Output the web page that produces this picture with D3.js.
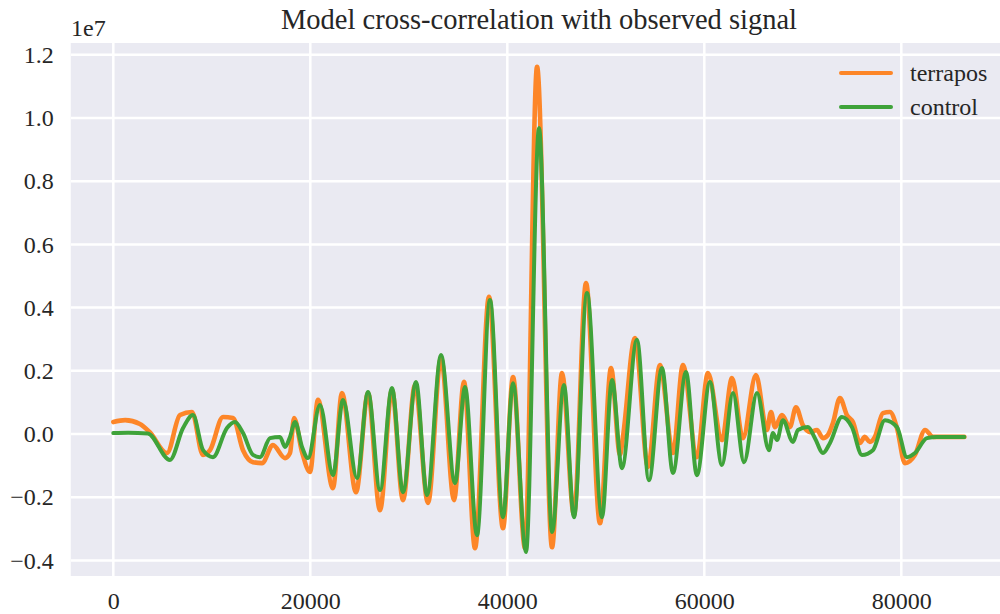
<!DOCTYPE html>
<html>
<head>
<meta charset="utf-8">
<script src="https://cdn.jsdelivr.net/npm/d3@7/dist/d3.min.js"></script>
<style>
  html, body { margin: 0; padding: 0; background: #ffffff; }
  svg { display: block; }
  text { font-family: "Liberation Serif", "DejaVu Serif", serif; fill: #262626; }
</style>
</head>
<body>
<svg id="chart" width="1000" height="614"></svg>
<script>
// ---- data (y values in units of 1e7) ----
const seriesNames = ["terrapos", "control"];
const xTicks = [0, 20000, 40000, 60000, 80000];
const yTicks = [-0.4, -0.2, 0.0, 0.2, 0.4, 0.6, 0.8, 1.0, 1.2];
const yOffsetLabel = "1e7";

const terraposX = [0, 1200, 2700, 3700, 5450, 6770, 7990, 9100, 9820, 11140, 12150, 13170, 14180, 15100, 16210, 17430, 17940, 18350, 19160, 19970,
  20780, 22300, 23210, 24640, 25860, 27070, 28290, 29410, 30630, 31950, 33270, 34590, 35600, 36720, 38140, 39560, 40580, 41800, 43020, 44540,
  45550, 46770, 47990, 49410, 50530, 51440, 51740, 52960, 54280, 55500, 56820, 57830, 59250, 60370, 61790, 62810, 63920, 65240, 66360, 66770,
  67170, 67880, 68690, 69300, 70010, 70720, 71430, 72040, 72550, 73060, 73770, 74480, 75090, 75800, 76300, 76810, 77320, 78130, 78840, 79560,
  80370, 81390, 82410, 83220, 84940, 86400];
const terraposY = [0.038, 0.044, 0.032, 0.006, -0.060, 0.060, 0.070, -0.066, -0.051, 0.054, 0.051, -0.051, -0.089, -0.092, -0.035, -0.076, -0.060, 0.051, -0.057, -0.120,
  0.108, -0.171, 0.130, -0.184, 0.130, -0.241, 0.139, -0.209, 0.155, -0.218, 0.241, -0.209, 0.165, -0.361, 0.434, -0.298, 0.180, -0.361, 1.162, -0.358,
  0.193, -0.256, 0.478, -0.282, 0.209, -0.066, -0.009, 0.304, -0.104, 0.218, -0.060, 0.218, -0.073, 0.193, -0.019, 0.177, -0.013, 0.187, 0.013, 0.070,
  0.022, 0.060, 0.022, 0.085, 0.028, 0.006, 0.013, -0.013, -0.003, 0.035, 0.114, 0.060, 0.038, -0.028, -0.009, -0.025, -0.009, 0.066, 0.070, 0.019,
  -0.092, -0.066, 0.013, -0.009, -0.009, -0.009];

const controlX = [0, 1500, 3500, 5750, 7080, 8090, 9110, 10120, 11540, 12350, 13170, 14180, 14890, 15910, 16920, 17430, 17940, 18450, 19160, 19770,
  20980, 22300, 23320, 24740, 25860, 27080, 28290, 29410, 30730, 31850, 33270, 34690, 35710, 36920, 38240, 39560, 40580, 41900, 43220, 44540,
  45750, 46770, 48090, 49610, 50630, 51640, 53160, 54380, 55700, 56820, 58140, 59250, 60570, 61790, 62910, 64030, 65350, 66560, 66970, 67380,
  67980, 69000, 69510, 70520, 71230, 72050, 72760, 73970, 74990, 76010, 77120, 78340, 79560, 80570, 81390, 82600, 83620, 86400];
const controlY = [0.003, 0.004, 0.002, -0.082, 0.019, 0.060, -0.051, -0.073, 0.019, 0.038, 0.003, -0.066, -0.073, -0.013, -0.009, -0.041, -0.009, 0.038, -0.041, -0.076,
  0.092, -0.130, 0.108, -0.139, 0.133, -0.177, 0.146, -0.184, 0.165, -0.193, 0.250, -0.155, 0.149, -0.320, 0.424, -0.263, 0.161, -0.373, 0.968, -0.310,
  0.155, -0.263, 0.446, -0.263, 0.171, -0.108, 0.298, -0.146, 0.209, -0.123, 0.196, -0.130, 0.165, -0.098, 0.130, -0.089, 0.130, -0.051, 0.003, -0.019,
  0.044, -0.025, 0.013, 0.022, -0.013, -0.060, -0.028, 0.054, 0.022, -0.066, -0.051, 0.044, 0.022, -0.073, -0.060, -0.013, -0.009, -0.009];

const colors = { terrapos: "#fd8628", control: "#3fa33a" };

// ---- layout ----
const svg = d3.select("#chart");
const plot = { left: 70.75, top: 43, right: 1006.9, bottom: 576 };

const x = d3.scaleLinear().domain([-4320, 90720]).range([plot.left, plot.right]);
const y = d3.scaleLinear().domain([-0.449, 1.237]).range([plot.bottom, plot.top]);

svg.append("rect")
  .attr("x", plot.left).attr("y", plot.top)
  .attr("width", plot.right - plot.left).attr("height", plot.bottom - plot.top)
  .attr("fill", "#eaeaf2");

svg.append("clipPath").attr("id", "clip")
  .append("rect").attr("x", plot.left).attr("y", plot.top)
  .attr("width", plot.right - plot.left).attr("height", plot.bottom - plot.top);

// grid
const grid = svg.append("g").attr("clip-path", "url(#clip)");
grid.selectAll("line.gx").data(xTicks).join("line")
  .attr("x1", d => x(d)).attr("x2", d => x(d))
  .attr("y1", plot.top).attr("y2", plot.bottom)
  .attr("stroke", "#ffffff").attr("stroke-width", 2.5);
grid.selectAll("line.gy").data(yTicks).join("line")
  .attr("y1", d => y(d)).attr("y2", d => y(d))
  .attr("x1", plot.left).attr("x2", plot.right)
  .attr("stroke", "#ffffff").attr("stroke-width", 2.5);

// axes (D3 axes, domain/ticks hidden like seaborn)
const fmtY = v => (Math.abs(v) < 1e-9 ? "0.0" : d3.format(".1f")(v).replace("-", "\u2212"));
const yAxis = svg.append("g").attr("transform", `translate(${plot.left},0)`)
  .call(d3.axisLeft(y).tickValues(yTicks).tickFormat(fmtY).tickSize(0).tickPadding(17));
const xAxis = svg.append("g").attr("transform", `translate(0,${plot.bottom})`)
  .call(d3.axisBottom(x).tickValues(xTicks).tickFormat(d3.format("d")).tickSize(0).tickPadding(16));
[xAxis, yAxis].forEach(a => {
  a.select(".domain").remove();
  a.selectAll("text").attr("font-family", "Liberation Serif").attr("font-size", 24).attr("fill", "#262626");
});

svg.append("text").attr("x", 71).attr("y", 36).attr("font-size", 24).text(yOffsetLabel);

// lines
const line = d3.line().x(d => x(d[0])).y(d => y(d[1])).curve(d3.curveMonotoneX);
const data = {
  terrapos: terraposX.map((v, i) => [v, terraposY[i]]),
  control: controlX.map((v, i) => [v, controlY[i]])
};
const lines = svg.append("g").attr("clip-path", "url(#clip)");
seriesNames.forEach(name => {
  lines.append("path").datum(data[name])
    .attr("d", line)
    .attr("fill", "none")
    .attr("stroke", colors[name])
    .attr("stroke-width", name === "terrapos" ? 4.6 : 4)
    .attr("stroke-linejoin", "round").attr("stroke-linecap", "round");
});

// title
svg.append("text").attr("x", 539).attr("y", 29)
  .attr("text-anchor", "middle").attr("font-size", 28.5)
  .text("Model cross-correlation with observed signal");

// legend
const legend = svg.append("g");
seriesNames.forEach((name, i) => {
  const ly = 73 + i * 34;
  legend.append("line").attr("x1", 841).attr("x2", 891).attr("y1", ly).attr("y2", ly)
    .attr("stroke", colors[name]).attr("stroke-width", 4).attr("stroke-linecap", "round");
  legend.append("text").attr("x", 910).attr("y", ly).attr("dy", "0.33em")
    .attr("font-size", 24).text(name);
});
</script>
</body>
</html>
